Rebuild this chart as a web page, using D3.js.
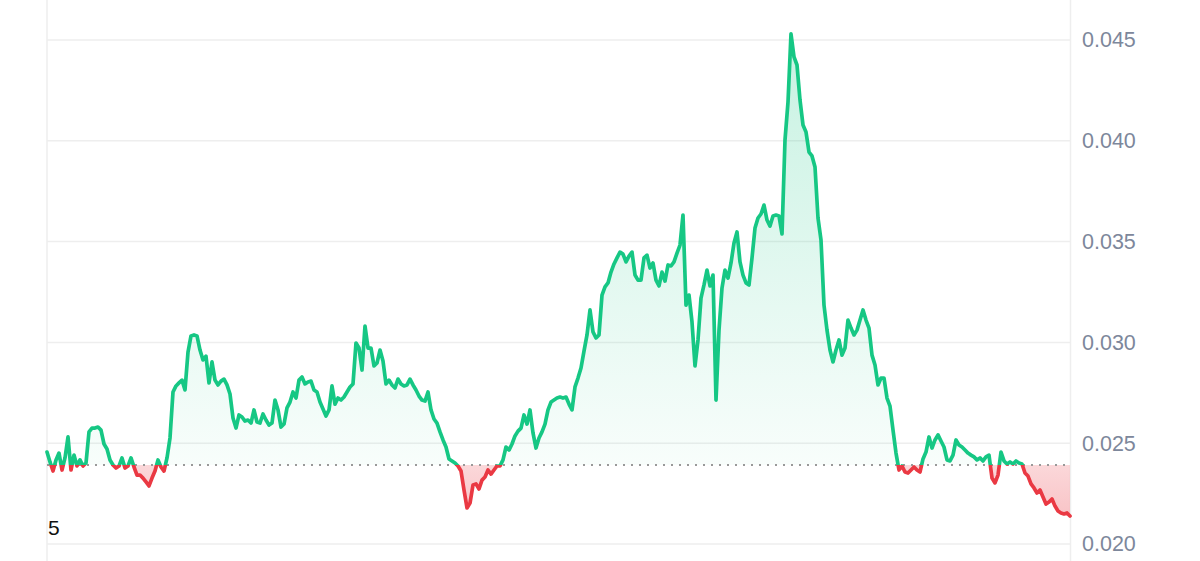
<!DOCTYPE html>
<html>
<head>
<meta charset="utf-8">
<script src="https://cdn.jsdelivr.net/npm/d3@7/dist/d3.min.js"></script>
<style>
  html, body { margin: 0; padding: 0; background: #ffffff; }
  svg { display: block; }
</style>
</head>
<body>
<svg id="chart" width="1200" height="561"></svg>
<script>
// ---- data (price series, evenly spaced in time) ----
const prices = [
  0.02456,0.02407,0.02362,0.02417,0.02451,0.02367,0.02427,0.02531,0.02367,0.02441,
  0.02387,0.02417,0.02387,0.02402,0.02556,0.02575,0.02575,0.02580,0.02565,0.02496,
  0.02471,0.02417,0.02392,0.02377,0.02387,0.02427,0.02377,0.02387,0.02427,0.02382,
  0.02342,0.02342,0.02327,0.02308,0.02288,0.02327,0.02362,0.02417,0.02382,0.02362,
  0.02427,0.02526,0.02754,0.02784,0.02799,0.02813,0.02764,0.02952,0.03032,0.03037,
  0.03032,0.02962,0.02913,0.02932,0.02799,0.02903,0.02813,0.02789,0.02808,0.02818,
  0.02789,0.02744,0.02625,0.02575,0.02640,0.02630,0.02610,0.02615,
  0.02600,0.02665,0.02605,0.02600,0.02645,0.02615,0.02590,0.02600,0.02714,0.02665,
  0.02580,0.02595,0.02675,0.02704,0.02754,0.02724,0.02813,0.02828,0.02794,0.02804,
  0.02808,0.02764,0.02754,0.02704,0.02670,0.02635,0.02665,0.02784,0.02694,0.02724,
  0.02714,0.02729,0.02754,0.02779,0.02794,0.02997,0.02972,0.02863,0.03081,0.02972,
  0.02972,0.02883,0.02898,0.02962,0.02908,0.02794,0.02813,0.02789,0.02774,0.02818,
  0.02794,0.02784,0.02789,0.02818,0.02789,0.02764,0.02734,0.02714,0.02709,0.02754,
  0.02665,0.02620,0.02600,0.02556,0.02516,0.02481,0.02422,
  0.02412,0.02402,0.02387,0.02362,0.02268,0.02179,0.02203,0.02293,0.02298,0.02273,
  0.02317,0.02332,0.02367,0.02347,0.02367,0.02387,0.02387,0.02417,0.02481,0.02466,
  0.02496,0.02536,0.02560,0.02575,0.02640,0.02595,0.02665,0.02551,0.02476,0.02526,
  0.02556,0.02595,0.02665,0.02704,0.02714,0.02724,0.02729,0.02724,0.02729,0.02694,
  0.02665,0.02779,0.02823,0.02873,0.02957,0.03037,0.03161,0.03052,0.03022,0.03037,
  0.03235,0.03275,0.03295,0.03349,0.03389,0.03419,
  0.03448,0.03438,0.03399,0.03428,0.03448,0.03334,0.03309,0.03309,0.03419,0.03433,
  0.03369,0.03394,0.03309,0.03280,0.03349,0.03304,0.03384,0.03379,0.03399,0.03443,
  0.03483,0.03632,0.03185,0.03235,0.03101,0.02883,0.03012,0.03220,0.03285,0.03359,
  0.03280,0.03334,0.02714,0.03061,0.03270,0.03359,0.03319,0.03394,0.03493,0.03548,
  0.03399,0.03334,0.03295,0.03285,0.03419,0.03567,0.03617,0.03637,0.03681,0.03607,
  0.03577,0.03627,0.03632,0.03627,0.03538,0.04004,0.04192,0.04530,0.04416,0.04376,
  0.04202,0.04078,0.04044,0.03944,0.03925,0.03870,0.03617,0.03508,0.03185,0.03061,
  0.02962,0.02903,0.02962,0.03012,0.02937,0.02972,0.03111,0.03071,0.03037,0.03061,
  0.03111,0.03161,0.03111,0.03071,0.02937,0.02888,0.02789,0.02823,0.02823,0.02724,
  0.02684,0.02565,0.02451,0.02367,0.02387,0.02357,0.02352,0.02367,0.02382,0.02367,
  0.02357,0.02422,0.02456,0.02531,0.02476,0.02516,0.02541,0.02511,0.02481,0.02417,
  0.02412,0.02441,0.02516,0.02491,0.02481,0.02466,0.02451,0.02441,0.02432,0.02417,
  0.02427,0.02412,0.02432,0.02441,0.02327,0.02303,0.02342,0.02456,0.02412,0.02397,
  0.02407,0.02397,0.02412,0.02402,0.02397,0.02352,0.02337,0.02298,0.02278,0.02253,
  0.02268,0.02233,0.02198,0.02208,0.02223,0.02188,0.02164,0.02154,0.02149,0.02154,
  0.02139
];
const baselinePrice = 0.02392;
const yTickValues = [0.020, 0.025, 0.030, 0.035, 0.040, 0.045];
const yTickLabels = ["0.020", "0.025", "0.030", "0.035", "0.040", "0.045"];
const leftLabel = "5";

// ---- layout ----
const W = 1200, H = 561;
const plotLeft = 47, plotRight = 1070;
const svg = d3.select("#chart");

const x = d3.scaleLinear().domain([0, prices.length - 1]).range([plotLeft, plotRight]);
const y = d3.scaleLinear().domain([0.020, 0.045]).range([544, 40]);
const yBase = y(baselinePrice);

const green = "#16c784", red = "#ea3943";

const defs = svg.append("defs");
const gg = defs.append("linearGradient").attr("id", "gFill")
  .attr("gradientUnits", "userSpaceOnUse").attr("x1", 0).attr("x2", 0)
  .attr("y1", y(d3.max(prices))).attr("y2", yBase);
gg.append("stop").attr("offset", 0).attr("stop-color", green).attr("stop-opacity", 0.24);
gg.append("stop").attr("offset", 1).attr("stop-color", green).attr("stop-opacity", 0.03);
const rg = defs.append("linearGradient").attr("id", "rFill")
  .attr("gradientUnits", "userSpaceOnUse").attr("x1", 0).attr("x2", 0)
  .attr("y1", yBase).attr("y2", y(d3.min(prices)));
rg.append("stop").attr("offset", 0).attr("stop-color", red).attr("stop-opacity", 0.2);
rg.append("stop").attr("offset", 1).attr("stop-color", red).attr("stop-opacity", 0.3);

defs.append("clipPath").attr("id", "clipAbove").append("rect")
  .attr("x", 0).attr("y", 0).attr("width", W).attr("height", yBase);
defs.append("clipPath").attr("id", "clipBelow").append("rect")
  .attr("x", 0).attr("y", yBase).attr("width", W).attr("height", H - yBase);

// gridlines
svg.append("g").selectAll("line").data(yTickValues).join("line")
  .attr("x1", plotLeft).attr("x2", plotRight)
  .attr("y1", d => y(d)).attr("y2", d => y(d))
  .attr("stroke", "#eeeeee").attr("stroke-width", 1.5);

// vertical frame lines
svg.append("line").attr("x1", plotLeft).attr("x2", plotLeft).attr("y1", 0).attr("y2", H)
  .attr("stroke", "#eeeeee").attr("stroke-width", 1.5);
svg.append("line").attr("x1", plotRight + 0.5).attr("x2", plotRight + 0.5).attr("y1", 0).attr("y2", H)
  .attr("stroke", "#eeeeee").attr("stroke-width", 1.5);

// areas
const area = d3.area().x((d, i) => x(i)).y0(yBase).y1(d => y(d));
svg.append("path").datum(prices).attr("d", area)
  .attr("fill", "url(#gFill)").attr("clip-path", "url(#clipAbove)");
svg.append("path").datum(prices).attr("d", area)
  .attr("fill", "url(#rFill)").attr("clip-path", "url(#clipBelow)");

// baseline
svg.append("line").attr("x1", plotLeft).attr("x2", plotRight)
  .attr("y1", yBase).attr("y2", yBase)
  .attr("stroke", "#999999").attr("stroke-width", 2).attr("stroke-dasharray", "2,6");

// lines
const line = d3.line().x((d, i) => x(i)).y(d => y(d));
svg.append("path").datum(prices).attr("d", line)
  .attr("fill", "none").attr("stroke", green).attr("stroke-width", 3.7)
  .attr("stroke-linejoin", "round").attr("stroke-linecap", "round")
  .attr("clip-path", "url(#clipAbove)");
svg.append("path").datum(prices).attr("d", line)
  .attr("fill", "none").attr("stroke", red).attr("stroke-width", 3.7)
  .attr("stroke-linejoin", "round").attr("stroke-linecap", "round")
  .attr("clip-path", "url(#clipBelow)");

// right axis labels
svg.append("g").selectAll("text").data(yTickValues).join("text")
  .attr("x", 1082).attr("y", d => y(d))
  .attr("dy", "0.34em")
  .attr("font-family", "'Liberation Sans', Arial, sans-serif")
  .attr("font-size", 21.5)
  .attr("fill", "#7d879b")
  .text((d, i) => yTickLabels[i]);

// clipped left label
svg.append("text").attr("x", 48).attr("y", 535)
  .attr("font-family", "'Liberation Sans', Arial, sans-serif")
  .attr("font-size", 21).attr("fill", "#111111").text(leftLabel);
</script>
</body>
</html>
